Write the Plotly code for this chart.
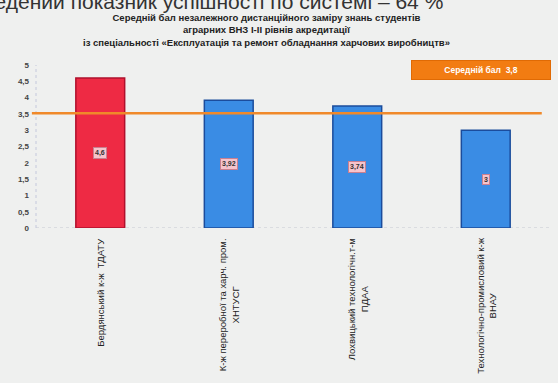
import plotly.graph_objects as go

# ---- data ----
categories = [
    "Бердянський к-ж  ТДАТУ",
    "К-ж переробної та харч. пром.<br>ХНТУСГ",
    "Лохвицький технологічн.т-м<br>ПДАА",
    "Технологічно-промисловий к-ж<br>ВНАУ",
]
scores = [4.6, 3.92, 3.74, 3.0]
bar_colors = ["#ee2a44", "#3a8ce4", "#3a8ce4", "#3a8ce4"]
border_colors = ["#b0102c", "#1b4c9c", "#1b4c9c", "#1b4c9c"]
avg_line = 3.52
avg_score = 3.8
y_ticks = [0, 0.5, 1, 1.5, 2, 2.5, 3, 3.5, 4, 4.5, 5]

main_title = "Зведений показник успішності по системі – 64 %"
subtitle = ("Середній бал незалежного дистанційного заміру знань студентів<br>"
            "аграрних ВНЗ І-ІІ рівнів акредитації<br>"
            "із спеціальності «Експлуатація та ремонт обладнання харчових виробництв»")


def fmt(v):
    s = f"{v:g}"
    return s.replace(".", ",")


xs = list(range(len(categories)))
BG = "#eff0ef"

fig = go.Figure()
fig.add_trace(go.Bar(
    x=xs, y=scores,
    marker=dict(color=bar_colors, line=dict(color=border_colors, width=1.5)),
    width=0.38,
    hoverinfo="skip",
))

annotations = []
# value labels
for x, v in zip(xs, scores):
    annotations.append(dict(
        x=x, y=v / 2, xref="x", yref="y", text=f"<b>{fmt(v)}</b>",
        showarrow=False, font=dict(size=7, color="#333", family="Liberation Sans"),
        bgcolor="#f6c4cc", bordercolor="#c98090", borderwidth=1, borderpad=1,
    ))
# category labels (rotated)
for x, c in zip(xs, categories):
    annotations.append(dict(
        x=x, y=0, xref="x", yref="paper", text=c, textangle=-90,
        showarrow=False, yanchor="top", xanchor="center", yshift=-8, align="center",
        font=dict(size=9.5, color="#222", family="Liberation Sans"),
    ))
# titles
annotations.append(dict(
    x=0.796, y=1.304, xref="paper", yref="paper", text=main_title,
    showarrow=False, xanchor="right", yanchor="bottom",
    font=dict(size=21, color="#333", family="Liberation Sans"),
))
annotations.append(dict(
    x=0.449, y=1.214, xref="paper", yref="paper", text="<b>" + subtitle + "</b>",
    showarrow=False, xanchor="center", yanchor="middle", align="center",
    font=dict(size=9.5, color="#222", family="Liberation Sans"),
))
# average badge
annotations.append(dict(
    x=0.866, y=0.972, xref="paper", yref="paper",
    text=f"<b>Середній бал  {fmt(avg_score)}</b>",
    showarrow=False, xanchor="center", yanchor="middle",
    width=136, height=16,
    font=dict(size=8.5, color="white", family="Liberation Sans"),
    bgcolor="#f27c12", bordercolor="#e06a04", borderwidth=1,
))

shapes = [
    # average line
    dict(type="line", xref="paper", yref="y", x0=-0.008, x1=0.984,
         y0=avg_line, y1=avg_line, line=dict(color="#f0892a", width=2.5), layer="above"),
    # dotted bottom axis
    dict(type="line", xref="paper", yref="y", x0=0, x1=1, y0=0, y1=0,
         line=dict(color="#c4c8d0", width=1, dash="dot"), layer="below"),
    # dotted left axis
    dict(type="line", xref="paper", yref="paper", x0=0, x1=0, y0=0, y1=1,
         line=dict(color="#c4c8dc", width=1, dash="dot"), layer="below"),
]

fig.update_layout(
    width=558, height=383,
    margin=dict(l=36, r=8, t=65, b=155),
    paper_bgcolor=BG, plot_bgcolor=BG,
    showlegend=False,
    separators=", ",
    annotations=annotations,
    shapes=shapes,
    bargap=0.62,
)
fig.update_xaxes(range=[-0.5, 3.5], showticklabels=False, showgrid=False,
                 zeroline=False, showline=False, ticks="")
fig.update_yaxes(range=[0, 5], tickvals=y_ticks, ticktext=[fmt(t) for t in y_ticks],
                 showgrid=False, zeroline=False, showline=False, ticks="",
                 ticklabelstandoff=6,
                 tickfont=dict(size=8, color="#444", family="Liberation Sans", weight="bold"))

fig.write_html(
    "out.html",
    config={"displayModeBar": False},
    post_script="document.body.style.margin='0';document.body.style.background='" + BG + "';",
)
